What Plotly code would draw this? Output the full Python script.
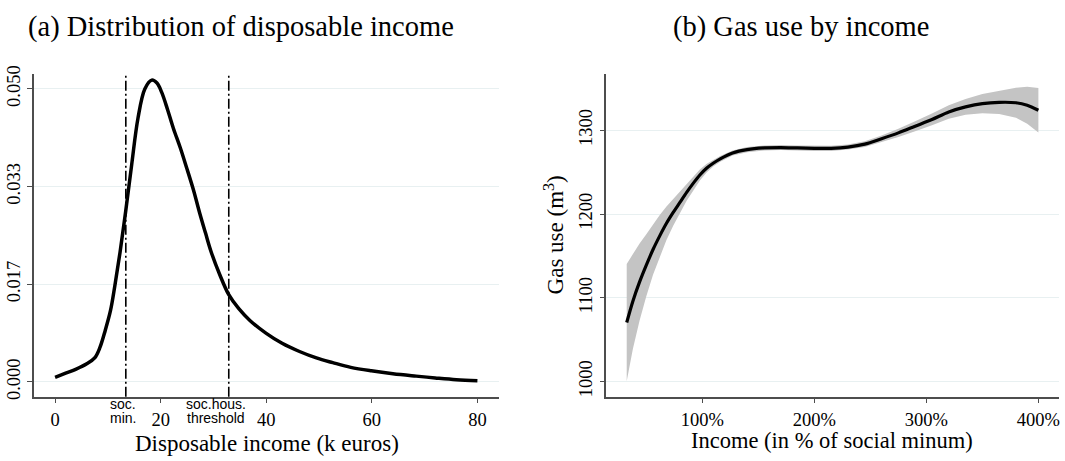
import plotly.graph_objects as go

# ---- Panel (a): kernel density of disposable income (k euros) ----
income_k = [0, 2, 4, 6, 7.5, 8.5, 9.5, 10.5, 11.3, 12.3, 13.4, 14.5, 15.7, 17, 18.3,
            19.3, 20.2, 21.3, 22.4, 23.7, 24.9, 26.2, 27.4, 28.5, 29.6, 31.2, 32.9,
            34.8, 36.9, 40, 43, 46.3, 49.5, 52.6, 56, 59.9, 64, 68.4, 72, 76, 80]
density = [0.0008, 0.0015, 0.0022, 0.0031, 0.0041, 0.0059, 0.0088, 0.0122, 0.0163,
           0.0221, 0.0293, 0.0370, 0.0450, 0.0500, 0.0515, 0.0510, 0.0494, 0.0465,
           0.0433, 0.0400, 0.0366, 0.0328, 0.0288, 0.0254, 0.0221, 0.0183, 0.0149,
           0.0125, 0.0105, 0.0083, 0.0066, 0.0052, 0.0041, 0.0033, 0.0025, 0.0019,
           0.0014, 0.0010, 0.0007, 0.0004, 0.0002]
ref_lines = [13.4, 32.9]            # social minimum, social-housing threshold
ref_labels = [["soc.", "min."], ["soc.hous.", "threshold"]]
density_ticks = [0, 0.05 / 3, 0.1 / 3, 0.05]
density_ticktext = ["0.000", "0.017", "0.033", "0.050"]
income_ticks = [0, 20, 40, 60, 80]

# ---- Panel (b): fitted gas use by income with confidence band ----
income_pct = [32.5, 38, 44, 50, 56, 62, 68, 74, 80, 86, 92, 98, 104, 110, 116, 127,
              140, 155, 170, 185, 200, 215, 230, 245, 260, 275, 290, 305, 320, 335,
              350, 365, 380, 390, 400]
gas_fit = [1070.5, 1096, 1119, 1139, 1157.7, 1174, 1189, 1202, 1214, 1226, 1237, 1247,
           1255, 1261, 1266, 1273, 1277, 1279, 1279.5, 1279, 1278.5, 1278.5, 1280,
           1283.5, 1290, 1297, 1305, 1313, 1322, 1328, 1332, 1333.5, 1333, 1330, 1324]
gas_halfwidth = [70, 57, 46, 37, 30, 25, 20, 16, 13, 10, 8, 6.5, 5, 4, 3.5, 3, 3, 3, 3,
                 3, 3, 3, 3, 3.5, 4, 5, 6, 7, 8, 9.5, 11.5, 14, 18, 22, 26.5]
gas_ticks = [1000, 1100, 1200, 1300]
pct_ticks = [100, 200, 300, 400]
pct_ticktext = ["100%", "200%", "300%", "400%"]

gas_lo = [f - h for f, h in zip(gas_fit, gas_halfwidth)]
gas_hi = [f + h for f, h in zip(gas_fit, gas_halfwidth)]

W, H = 1065, 461
SERIF = "Liberation Serif"
SANS = "Liberation Sans"
AXIS_COL = "#4d4d4d"
GRID_COL = "#e8f0f1"

fig = go.Figure()

fig.add_trace(go.Scatter(x=income_k, y=density, mode="lines",
                         line=dict(color="black", width=3.5, shape="spline", smoothing=1.0),
                         xaxis="x", yaxis="y", showlegend=False, hoverinfo="skip"))

fig.add_trace(go.Scatter(x=income_pct + income_pct[::-1], y=gas_hi + gas_lo[::-1],
                         fill="toself", fillcolor="#c4c4c4", line=dict(width=0),
                         mode="lines", xaxis="x2", yaxis="y2", showlegend=False,
                         hoverinfo="skip"))
fig.add_trace(go.Scatter(x=income_pct, y=gas_fit, mode="lines",
                         line=dict(color="black", width=3.2, shape="spline", smoothing=0.8),
                         xaxis="x2", yaxis="y2", showlegend=False, hoverinfo="skip"))

# dash-dot reference lines
for v in ref_lines:
    fig.add_shape(type="line", xref="x", yref="y domain", x0=v, x1=v, y0=0, y1=1,
                  line=dict(color="black", width=1.6, dash="10px,3px,2px,3px"))


def px_x(p):
    return p / W


def px_y(p):
    return 1 - p / H


# two-line labels under the reference lines
annotations = []
for v, (l1, l2), shift in zip(ref_lines, ref_labels, [-3, -13]):
    for txt, py in ((l1, 406), (l2, 420)):
        annotations.append(dict(x=v, xref="x", y=px_y(py), yref="paper", text=txt,
                                showarrow=False, xshift=shift, xanchor="center",
                                yanchor="middle", borderpad=0,
                                font=dict(family=SANS, size=14, color="black")))

annotations += [
    dict(x=px_x(241), y=px_y(18), xref="paper", yref="paper", showarrow=False,
         text="(a) Distribution of disposable income", xanchor="center", yanchor="middle",
         font=dict(family=SERIF, size=28.5, color="black")),
    dict(x=px_x(802), y=px_y(18), xref="paper", yref="paper", showarrow=False,
         text="(b) Gas use by income", xanchor="center", yanchor="middle",
         font=dict(family=SERIF, size=28.5, color="black")),
    dict(x=px_x(267), y=px_y(446), xref="paper", yref="paper", showarrow=False,
         text="Disposable income (k euros)", xanchor="center", yanchor="middle",
         font=dict(family=SERIF, size=23, color="black")),
    dict(x=px_x(833), y=px_y(443), xref="paper", yref="paper", showarrow=False,
         text="Income (in % of social minum)", xanchor="center", yanchor="middle",
         font=dict(family=SERIF, size=22.5, color="black")),
    dict(x=px_x(555), y=px_y(232), xref="paper", yref="paper", showarrow=False,
         text="Gas use (m<sup>3</sup>)", textangle=-90, xanchor="center", yanchor="middle",
         font=dict(family=SERIF, size=23, color="black")),
]

tick_font = dict(family=SERIF, size=18.5, color="black")
common_axis = dict(showline=True, linecolor=AXIS_COL, linewidth=1.5, ticks="outside",
                   ticklen=5, tickcolor=AXIS_COL, tickwidth=1.2, zeroline=False,
                   tickfont=tick_font, mirror=False)

fig.update_layout(
    width=W, height=H, margin=dict(l=0, r=0, t=0, b=0),
    paper_bgcolor="white", plot_bgcolor="white",
    xaxis=dict(domain=[px_x(34), px_x(499)], range=[-4, 84], tickvals=income_ticks,
               showgrid=False, anchor="y", **common_axis),
    yaxis=dict(domain=[px_y(398), px_y(67)], range=[-0.0025, 0.0525],
               tickvals=density_ticks, ticktext=density_ticktext, tickangle=-90,
               showgrid=True, gridcolor=GRID_COL, gridwidth=1, anchor="x", **common_axis),
    xaxis2=dict(domain=[px_x(607), px_x(1060)], range=[14.4, 418.4], tickvals=pct_ticks,
                ticktext=pct_ticktext, showgrid=False, anchor="y2", **common_axis),
    yaxis2=dict(domain=[px_y(398), px_y(67)], range=[982, 1367], tickvals=gas_ticks,
                tickangle=-90, showgrid=True, gridcolor=GRID_COL, gridwidth=1,
                anchor="x2", **common_axis),
    annotations=annotations,
)

fig.write_html("out.html")
